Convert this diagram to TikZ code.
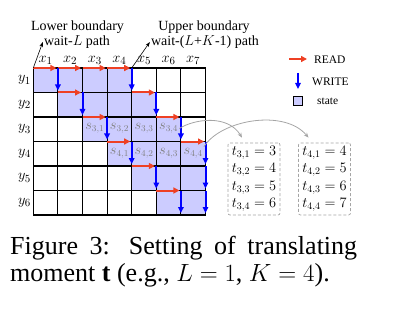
\documentclass[tikz,border=0pt]{standalone}
\usepackage{fontspec}
\setmainfont{Liberation Serif}
\usetikzlibrary{arrows.meta}
\definecolor{rd}{RGB}{238,64,36}
\definecolor{bl}{RGB}{0,0,255}
\definecolor{st}{RGB}{204,204,255}
\definecolor{cg}{RGB}{165,165,165}
\begin{document}
\begin{tikzpicture}[x=1pt,y=-1pt,
  gridline/.style={line width=1.1pt,black},
  readarrow/.style={rd,line width=2pt,-{Triangle[length=6pt,width=6pt]}},
  writearrow/.style={bl,line width=2pt,-{Triangle[length=6pt,width=5.5pt]}},
  lab/.style={font=\fontsize{15.5}{18}\selectfont,inner sep=1pt},
  slab/.style={font=\fontsize{13.5}{15}\selectfont,text=gray,inner sep=1pt},
  ann/.style={font=\fontsize{14}{16}\selectfont,inner sep=1pt},
  annarrow/.style={black,line width=0.6pt,-{Stealth[length=5pt,width=3.5pt]}},
  leg/.style={font=\fontsize{11.5}{13}\selectfont,inner sep=0pt,anchor=west},
  tbox/.style={draw=cg,dash pattern=on 3pt off 2pt,rounded corners=2pt,line width=0.7pt,
     minimum width=52pt,minimum height=72pt,align=left,inner sep=1pt,
     font=\fontsize{14.5}{17.5}\selectfont},
  curve/.style={cg,line width=0.8pt,-{Stealth[length=5pt,width=4pt]}}]
\useasboundingbox (0,0) rectangle (396,318);

% shaded states
\foreach \r/\a/\b in {1/1/4,2/2/5,3/3/6,4/4/7,5/5/7,6/6/7}
  \fill[st] ({33.3+(\a-1)*24.6},{68+(\r-1)*24.5}) rectangle ({33.3+\b*24.6},{68+\r*24.5});

% grid
\foreach \i in {0,...,7}
  \draw[gridline] ({33.3+\i*24.6},68) -- ({33.3+\i*24.6},215);
\foreach \j in {0,...,6}
  \draw[gridline] (33.3,{68+\j*24.5}) -- (205.5,{68+\j*24.5});

% READ arrows
\foreach \r/\c in {1/1,1/2,1/3,1/4,2/2,2/5,3/3,3/6,4/4,4/7,5/5,6/6}
  \draw[readarrow] ({33.3+(\c-1)*24.6},{68+(\r-1)*24.5}) -- ({33.3+\c*24.6-1.5},{68+(\r-1)*24.5});

% WRITE arrows
\foreach \r/\c in {1/1,1/4,2/2,2/5,3/3,3/6,4/4,4/7,5/5,5/7,6/6,6/7}
  \draw[writearrow] ({33.3+\c*24.6},{68+(\r-1)*24.5}) -- ({33.3+\c*24.6},{68+\r*24.5-2});

% axis labels
\foreach \c in {1,...,7}
  \node[lab] (x\c) at ({33.3+(\c-0.5)*24.6},60) {$x_{\c}$};
\foreach \r in {1,...,6}
  \node[lab] (y\r) at (24.5,{68+(\r-0.5)*24.5}) {$y_{\r}$};

% state labels
\foreach \j in {1,...,4}
  \node[slab] (s3\j) at ({33.3+(\j+1.5)*24.6},128.5) {$s_{3,\j}$};
\foreach \j in {1,...,4}
  \node[slab] (s4\j) at ({33.3+(\j+2.5)*24.6},153) {$s_{4,\j}$};

% annotations
\coordinate (c00) at (33.3,68);
\coordinate (c40) at (131.7,68);
\node[ann] (lb) at (77.5,27) {Lower boundary};
\node[ann] (lw) at (77,42) {wait-$L$ path};
\node[ann] (ub) at (204,27) {Upper boundary};
\node[ann] (uw) at (205,42) {wait-($L$+$K$-1) path};
\draw[annarrow] (c00) -- (lw.west);
\draw[annarrow] (c40) -- (uw.west);

% legend
\coordinate (r1) at (289,59);
\coordinate (r2) at (307,59);
\draw[readarrow] (r1) -- (r2);
\node[leg] (lread) at (314,60) {READ};
\coordinate (w1) at (298,73);
\coordinate (w2) at (298,89);
\draw[writearrow] (w1) -- (w2);
\node[leg] (lwrite) at (312,82) {WRITE};
\node[draw=black,fill=st,line width=0.8pt,minimum size=9.5pt,inner sep=0pt] (lsq) at (298,101) {};
\node[leg] (lstate) at (317,101) {state};

% t boxes
\node[tbox] (tb3) at (254,179) {$t_{3,1}=3$\\$t_{3,2}=4$\\$t_{3,3}=5$\\$t_{3,4}=6$};
\node[tbox] (tb4) at (324.5,179) {$t_{4,1}=4$\\$t_{4,2}=5$\\$t_{4,3}=6$\\$t_{4,4}=7$};

\draw[curve] (s34.east) .. controls +(16,-10) and +(-14,-23) .. ([xshift=-12pt,yshift=5pt]tb3.north);
\draw[curve] (s44.north east) .. controls +(17,-27) and +(-24,-29) .. ([xshift=-16pt,yshift=5pt]tb4.north);

% caption
\node[anchor=base west,inner sep=0pt,font=\fontsize{26}{28}\selectfont] (cap1) at (10,254.3)
  {\makebox[347pt][s]{Figure 3:  Setting of translating}};
\node[anchor=base west,inner sep=0pt,font=\fontsize{26}{28}\selectfont] (cap2) at (10,281.7)
  {moment $\mathbf{t}$ (e.g., $L=1$, $K=4$).};
\end{tikzpicture}
\end{document}
